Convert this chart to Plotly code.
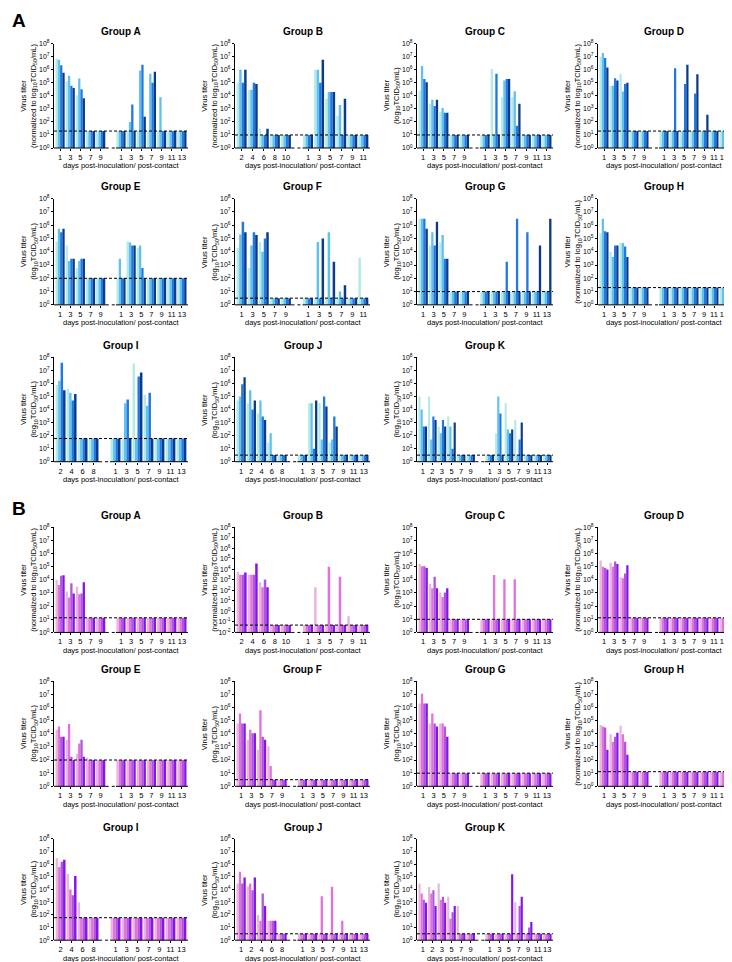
import plotly.graph_objects as go

L = None  # below the limit of detection -> drawn at the LOD

# ================= Section A (blue) =================
AA_inoc = [1, 3, 5, 7, 9]
AA_cont = [1, 3, 5, 7, 9, 11, 13]
AA_lod = 20
AA_titers = [[7e6, 6e6, 2.2e6, 6e5], [1.3e5, 3.5e5, 6e4, 4e4], [1.1e4, 2.2e5, 3.3e4, 6.5e3], [L, L, L, L], [L, L, L, L],
             [L, L, L, L], [L, 100, 2200, L], [L, 9e5, 2.5e6, 250], [L, 5e5, 1e5, 7e5], [L, 8e3, L, L], [L, L, L, L], [L, L, L, L]]

AB_inoc = [2, 4, 6, 8, 10]
AB_cont = [1, 3, 5, 7, 9, 11]
AB_lod = 10
AB_titers = [[1e5, 1e6, 1e5, 1e6], [3e4, 3e4, 1e5, 8e4], [30, L, L, 30], [L, L, L, L], [L, L, L, L],
             [L, L, L, L], [1e6, 1e6, 1e5, 6e6], [6e3, 2e4, 2e4, 2e4], [300, 2e3, L, 6e3], [L, L, L, L], [L, L, L, L]]

AC_inoc = [1, 3, 5, 7, 9]
AC_cont = [1, 3, 5, 7, 9, 11, 13]
AC_lod = 10
AC_titers = [[2.5e4, 2e6, 2e5, 1.1e5], [2.5e3, 5e3, 1.7e3, 5e3], [600, 1.2e3, 500, 500], [L, L, L, L], [L, L, L, L],
             [L, L, L, L], [1.2e6, L, 5e5, L], [8e3, 1.5e5, 2e5, 2e5], [8e3, 2.3e4, 50, 2.5e3], [L, L, L, L], [L, L, L, L], [L, L, L, L]]

AD_inoc = [1, 3, 5, 7, 9]
AD_cont = [1, 3, 5, 7, 9, 11, 13]
AD_lod = 20
AD_titers = [[1e7, 2e7, 8e6, 1.5e6], [6e4, 6e4, 2.3e5, 1.5e5], [5e5, 2.2e4, 8e4, 1e5], [L, L, L, L], [L, L, L, L],
             [L, L, L, L], [L, L, 1.3e6, L], [L, L, 8e4, 2.5e6], [L, L, 1.5e4, 4.5e5], [L, L, L, 350], [L, L, L, L], [L, L, L, L]]

AE_inoc = [1, 3, 5, 7, 9]
AE_cont = [1, 3, 5, 7, 9, 11, 13]
AE_lod = 100
AE_titers = [[6e4, 5.5e5, 3e5, 5.5e5], [3e4, 2e3, 3e3, 3e3], [600, 2e3, 3e3, 3e3], [L, L, L, L], [L, L, L, L],
             [L, 3e3, L, L], [6e4, 5e4, 3e4, 3e4], [2e4, 3e4, 600, L], [L, L, L, L], [L, L, L, L], [L, L, L, L], [L, L, L, L]]

AF_inoc = [1, 3, 5, 7, 9]
AF_cont = [1, 3, 5, 7, 9, 11]
AF_lod = 3.2
AF_titers = [[2e4, 2e5, 1.8e6, 3e5], [600, 3e4, 3e5, 1.8e5], [5.5e4, 1e4, 1e5, 3e5], [L, L, L, L], [L, L, L, L],
             [L, L, L, L], [L, 5.5e4, L, 1e5], [L, 3e5, L, 1.8e3], [L, 10, L, 30], [L, L, L, L], [3.5e3, L, L, L]]

AG_inoc = [1, 3, 5, 7, 9]
AG_cont = [1, 3, 5, 7, 9, 11, 13]
AG_lod = 10
AG_titers = [[3e6, 3e6, 3e6, 5.5e5], [3e4, 3e5, 3e4, 1.8e6], [5e4, 1.8e5, 3e3, 3e3], [L, L, L, L], [L, L, L, L],
             [L, L, L, L], [L, L, L, L], [L, L, 1.8e3, L], [L, L, 3e6, L], [L, L, 3e5, L], [L, L, L, 3e4], [L, L, L, 3e6]]

AH_inoc = [1, 3, 5, 7, 9]
AH_cont = [1, 3, 5, 7, 9, 11, 13]
AH_lod = 20
AH_titers = [[2.5e5, 3e6, 3.5e5, 3e5], [1e4, 4e3, 3e4, 3e4], [4.5e4, 4.5e4, 2.5e4, 4e3], [L, L, L, L], [L, L, L, L],
             [L, L, L, L], [L, L, L, L], [L, L, L, L], [L, L, L, L], [L, L, L, L], [L, L, L, L], [L, L, L, L]]

AI_inoc = [2, 4, 6, 8]
AI_cont = [1, 3, 5, 7, 9, 11, 13]
AI_lod = 60
AI_titers = [[8e5, 1.6e6, 4e7, 3e5], [4e5, 2e5, 5e4, 1.6e5], [L, L, L, L], [L, L, L, L],
             [L, L, L, L], [L, 3e4, 6e4, L], [3.5e7, L, 3.5e6, 7e6], [1.4e5, 2e4, 2e5, L], [L, L, L, L], [L, L, L, L], [L, L, L, L]]

AJ_inoc = [1, 2, 4, 6, 8]
AJ_cont = [1, 3, 5, 7, 9, 11, 13]
AJ_lod = 3.2
AJ_titers = [[5e4, 1e5, 9e5, 3e6], [3e4, 3e5, 1e4, 5e4], [5e3, 5e4, 3e3, 1.6e3], [30, 150, L, L], [L, L, L, L],
             [L, L, L, L], [3e4, 3e4, 10, 5e4], [3e4, 50, 1e5, 1.7e4], [30, 50, 3e3, 500], [L, L, L, L], [L, L, L, L], [L, L, L, L]]

AK_inoc = [1, 2, 3, 5, 7, 9]
AK_cont = [1, 3, 5, 7, 9, 11, 13]
AK_lod = 3.2
AK_titers = [[1e5, 1e4, 500, 500], [1e5, 50, 3e3, 1.6e3], [500, 150, 1.6e3, 500], [3e3, 500, 10, 1e3], [L, L, L, L], [L, L, L, L],
             [L, L, L, L], [150, 1e5, 5e3, L], [3e4, 300, 150, 300], [1.6e3, L, 50, 1e3], [L, L, L, L], [L, L, L, L], [L, L, L, L]]

# ================= Section B (purple) =================
BA_inoc = [1, 3, 5, 7, 9]
BA_cont = [1, 3, 5, 7, 9, 11, 13]
BA_lod = 13
BA_titers = [[1e4, 4e3, 2e4, 2.2e4], [1.3e3, 450, 5.5e3, 900], [3e3, 800, 900, 6.5e3], [L, L, L, L], [L, L, L, L],
             [L, L, L, L], [L, L, L, L], [L, L, L, L], [L, L, L, L], [L, L, L, L], [L, L, L, L], [L, L, L, L]]

BB_inoc = [2, 4, 6, 8, 10]
BB_cont = [1, 3, 5, 7, 9, 11]
BB_lod = 0.05
BB_titers = [[6e3, 3e3, 3e3, 5e3], [3e3, 3e3, 3e3, 3.5e4], [600, 200, 1.1e3, 200], [L, L, L, L], [L, L, L, L],
             [L, L, L, L], [200, L, L, L], [L, 1.8e4, L, L], [L, 2e3, L, L], [0.35, L, L, L], [L, L, L, L]]

BC_inoc = [1, 3, 5, 7, 9]
BC_cont = [1, 3, 5, 7, 9, 11, 13]
BC_lod = 10
BC_titers = [[1.6e5, 1.1e5, 1.1e5, 8e4], [5e3, 2.3e3, 1.7e4, 2.3e3], [1.1e3, 500, 1.1e3, 2.3e3], [L, L, L, L], [L, L, L, L],
             [L, L, L, L], [L, 2.3e4, L, L], [L, 1.1e4, L, L], [L, 1.1e4, L, L], [L, L, L, L], [L, L, L, L], [L, L, L, L]]

BD_inoc = [1, 3, 5, 7, 9]
BD_cont = [1, 3, 5, 7, 9, 11, 13]
BD_lod = 13
BD_titers = [[3e5, 1e5, 8e4, 6e4], [2e5, 1e5, 2.5e5, 1.6e5], [1.6e4, 1.3e4, 3e4, 1.3e5], [L, L, L, L], [L, L, L, L],
             [L, L, L, L], [L, L, L, L], [L, L, L, L], [L, L, L, L], [L, L, L, L], [L, L, L, L], [L, L, L, L]]

BE_inoc = [1, 3, 5, 7, 9]
BE_cont = [1, 3, 5, 7, 9, 11, 13]
BE_lod = 100
BE_titers = [[2e4, 3.5e4, 6e3, 6e3], [3.5e3, 5.5e4, 180, L], [300, 1.8e3, 3.5e3, 180], [150, L, L, L], [L, L, L, L],
             [L, L, L, L], [L, L, L, L], [L, L, L, L], [L, L, L, L], [L, L, L, L], [L, L, L, L], [L, L, L, L]]

BF_inoc = [1, 3, 5, 7, 9]
BF_cont = [1, 3, 5, 7, 9, 11, 13]
BF_lod = 3.2
BF_titers = [[6e4, 3.5e5, 6e4, 6e4], [3.5e3, 2e4, 1.1e4, 1.1e4], [600, 6e5, 6e3, 3.5e3], [1.1e3, 35, L, L], [L, L, L, L],
             [L, L, L, L], [L, L, L, L], [L, L, L, L], [L, L, L, L], [L, L, L, L], [L, L, L, L], [L, L, L, L]]

BG_inoc = [1, 3, 5, 7, 9]
BG_cont = [1, 3, 5, 7, 9, 11, 13]
BG_lod = 10
BG_titers = [[2e6, 1.1e7, 2e6, 2e6], [6e4, 3.5e5, 6e4, 3.5e4], [6e4, 6e4, 3.5e4, 6e3], [L, L, L, L], [L, L, L, L],
             [L, L, L, L], [L, L, L, L], [L, L, L, L], [L, L, L, L], [L, L, L, L], [L, L, L, L], [L, L, L, L]]

BH_inoc = [1, 3, 5, 7, 9]
BH_cont = [1, 3, 5, 7, 9, 11, 13]
BH_lod = 13
BH_titers = [[4.5e4, 3.5e4, 3e4, 600], [9e3, 2.5e3, 6e3, 1.2e4], [4e4, 9e3, 2.5e3, 250], [L, L, L, L], [L, L, L, L],
             [L, L, L, L], [L, L, L, L], [L, L, L, L], [L, L, L, L], [L, L, L, L], [L, L, L, L], [L, L, L, L]]

BI_inoc = [2, 4, 6, 8]
BI_cont = [1, 3, 5, 7, 9, 11, 13]
BI_lod = 60
BI_titers = [[3e6, 6e5, 1.6e6, 2.3e6], [1.7e5, 1e4, 3.5e3, 1.2e5], [1e3, L, L, L], [L, L, L, L],
             [L, L, L, L], [L, L, L, L], [L, L, L, L], [L, L, L, L], [L, L, L, L], [L, L, L, L], [L, L, L, L]]

BJ_inoc = [1, 2, 4, 6, 8]
BJ_cont = [1, 3, 5, 7, 9, 11, 13]
BJ_lod = 3.2
BJ_titers = [[3e4, 2.5e5, 3e4, 9e4], [1.8e4, 3e4, 9e3, 9e4], [100, 35, 5e3, 500], [35, 35, 35, 35], [L, L, L, L],
             [L, L, L, L], [L, L, L, L], [L, 3e3, L, L], [L, 1.7e4, L, L], [L, 35, L, L], [L, L, L, L], [L, L, L, L]]

BK_inoc = [1, 2, 3, 5, 7, 9]
BK_cont = [1, 3, 5, 7, 9, 11, 13]
BK_lod = 3.2
BK_titers = [[3e4, 5e3, 1.6e3, 900], [1.6e4, 5e3, 9e3, 500], [3e4, 1.6e3, 2.7e3, 900], [2.7e3, 50, 160, 500], [500, L, L, L], [L, L, L, L],
             [L, L, L, L], [L, L, L, L], [L, L, L, 1.6e5], [1e3, L, 500, 2.7e3], [L, L, 10, 28], [L, L, L, L], [L, L, L, L]]

BLUES = ["#b4ebe6", "#5fc2ee", "#1f78e4", "#0b3b88"]
PURPLES = ["#e6b6dc", "#e46fde", "#ad58db", "#8612ee"]

NORM = "Virus titer<br>(normalized to log<sub>10</sub>TCID<sub>50</sub>/mL)"
LOGT = "Virus titer<br>(log<sub>10</sub>TCID<sub>50</sub>/mL)"

panels = [
    ("Group A", AA_inoc, AA_cont, AA_lod, AA_titers, NORM, 0),
    ("Group B", AB_inoc, AB_cont, AB_lod, AB_titers, NORM, 0),
    ("Group C", AC_inoc, AC_cont, AC_lod, AC_titers, LOGT, 0),
    ("Group D", AD_inoc, AD_cont, AD_lod, AD_titers, NORM, 0),
    ("Group E", AE_inoc, AE_cont, AE_lod, AE_titers, LOGT, 0),
    ("Group F", AF_inoc, AF_cont, AF_lod, AF_titers, LOGT, 0),
    ("Group G", AG_inoc, AG_cont, AG_lod, AG_titers, LOGT, 0),
    ("Group H", AH_inoc, AH_cont, AH_lod, AH_titers, NORM, 0),
    ("Group I", AI_inoc, AI_cont, AI_lod, AI_titers, LOGT, 0),
    ("Group J", AJ_inoc, AJ_cont, AJ_lod, AJ_titers, LOGT, 0),
    ("Group K", AK_inoc, AK_cont, AK_lod, AK_titers, LOGT, 0),
    ("Group A", BA_inoc, BA_cont, BA_lod, BA_titers, NORM, 0),
    ("Group B", BB_inoc, BB_cont, BB_lod, BB_titers, NORM, -2),
    ("Group C", BC_inoc, BC_cont, BC_lod, BC_titers, LOGT, 0),
    ("Group D", BD_inoc, BD_cont, BD_lod, BD_titers, NORM, 0),
    ("Group E", BE_inoc, BE_cont, BE_lod, BE_titers, LOGT, 0),
    ("Group F", BF_inoc, BF_cont, BF_lod, BF_titers, LOGT, 0),
    ("Group G", BG_inoc, BG_cont, BG_lod, BG_titers, LOGT, 0),
    ("Group H", BH_inoc, BH_cont, BH_lod, BH_titers, NORM, 0),
    ("Group I", BI_inoc, BI_cont, BI_lod, BI_titers, LOGT, 0),
    ("Group J", BJ_inoc, BJ_cont, BJ_lod, BJ_titers, LOGT, 0),
    ("Group K", BK_inoc, BK_cont, BK_lod, BK_titers, LOGT, 0),
]

W, H = 732, 962
COLS = [(46, 180), (227, 362), (409, 545), (590, 722)]
ROWS = [(32, 137), (188, 295), (348, 453), (519, 625), (674, 780), (833, 935)]
FONT = "Arial, Liberation Sans, sans-serif"

fig = go.Figure()
layout = dict(width=W, height=H, margin=dict(l=0, r=0, t=0, b=0),
              plot_bgcolor="white", paper_bgcolor="white", barmode="group",
              bargap=0.1, bargroupgap=0.0, showlegend=False,
              font=dict(family=FONT, color="black"))
shapes, annotations = [], []

for i, (title, inoc, cont, lod, titers, ytitle, ymin) in enumerate(panels):
    k = i + 1
    sec = 0 if i < 11 else 1
    j = i % 11
    r = sec * 3 + j // 4
    c = j % 4
    x0, x1 = COLS[c]
    y0, y1 = ROWS[r]
    colors = BLUES if sec == 0 else PURPLES
    n1 = len(inoc)
    pos = list(range(n1)) + [n1 + 1 + q for q in range(len(cont))]
    labels = [str(d) for d in inoc] + [str(d) for d in cont]
    ntot = n1 + 1 + len(cont)
    xr = [-0.6, ntot - 0.4]
    xa = "x" if k == 1 else f"x{k}"
    ya = "y" if k == 1 else f"y{k}"
    for a in range(4):
        vals = [g[a] if g[a] is not None else lod for g in titers]
        fig.add_trace(go.Bar(x=pos, y=vals, marker=dict(color=colors[a], line=dict(width=0)),
                             xaxis=xa, yaxis=ya, hoverinfo="y"))
    ksuf = "" if k == 1 else str(k)
    layout["xaxis" + ksuf] = dict(domain=[x0 / W, x1 / W], anchor=ya, range=xr,
                                  tickvals=pos, ticktext=labels, ticks="outside", ticklen=2,
                                  tickwidth=1, tickcolor="black", showline=False, showgrid=False,
                                  zeroline=False, tickangle=0, tickfont=dict(size=7.5, family=FONT),
                                  fixedrange=True)
    tv = [10 ** e for e in range(ymin, 9)]
    tt = [f"10<sup>{e}</sup>" for e in range(ymin, 9)]
    layout["yaxis" + ksuf] = dict(domain=[1 - y1 / H, 1 - y0 / H], anchor=xa, type="log",
                                  range=[ymin, 8], tickvals=tv, ticktext=tt, ticks="outside",
                                  ticklen=2, tickwidth=1, tickcolor="black", showline=True,
                                  linewidth=1, linecolor="black", showgrid=False, zeroline=False,
                                  tickfont=dict(size=7, family=FONT), fixedrange=True)
    # x axis baseline with dotted break
    ydom = f"{ya} domain"
    shapes.append(dict(type="line", xref=xa, yref=ydom, x0=xr[0], x1=n1 - 0.5, y0=0, y1=0,
                       line=dict(color="black", width=1)))
    shapes.append(dict(type="line", xref=xa, yref=ydom, x0=n1 - 0.5, x1=n1 + 0.5, y0=0, y1=0,
                       line=dict(color="black", width=1, dash="dot")))
    shapes.append(dict(type="line", xref=xa, yref=ydom, x0=n1 + 0.5, x1=xr[1], y0=0, y1=0,
                       line=dict(color="black", width=1)))
    # limit of detection
    shapes.append(dict(type="line", xref=xa, yref=ya, x0=xr[0], x1=xr[1], y0=lod, y1=lod,
                       line=dict(color="black", width=1, dash="3px,2px")))
    # title
    annotations.append(dict(text=f"<b>{title}</b>", x=(x0 + x1) / 2 / W, y=1 - (y0 - 12) / H,
                            xref="paper", yref="paper", showarrow=False, xanchor="center",
                            yanchor="middle", font=dict(size=10, family=FONT)))
    # x title
    annotations.append(dict(text="days post-inoculation/ post-contact", x=(x0 + x1) / 2 / W,
                            y=1 - (y1 + 18) / H, xref="paper", yref="paper", showarrow=False,
                            xanchor="center", yanchor="middle", font=dict(size=7.5, family=FONT)))
    # y title
    annotations.append(dict(text=ytitle, x=(x0 - 25) / W, y=1 - (y0 + y1) / 2 / H,
                            xref="paper", yref="paper", showarrow=False, textangle=-90,
                            xanchor="center", yanchor="middle", font=dict(size=7.5, family=FONT)))

annotations.append(dict(text="<b>A</b>", x=2 / W, y=1 - 9 / H, xref="paper", yref="paper",
                        showarrow=False, xanchor="left", yanchor="middle", font=dict(size=19, family=FONT)))
annotations.append(dict(text="<b>B</b>", x=2 / W, y=1 - 500 / H, xref="paper", yref="paper",
                        showarrow=False, xanchor="left", yanchor="middle", font=dict(size=19, family=FONT)))

layout["shapes"] = shapes
layout["annotations"] = annotations
fig.update_layout(**layout)
fig.write_html("out.html")
